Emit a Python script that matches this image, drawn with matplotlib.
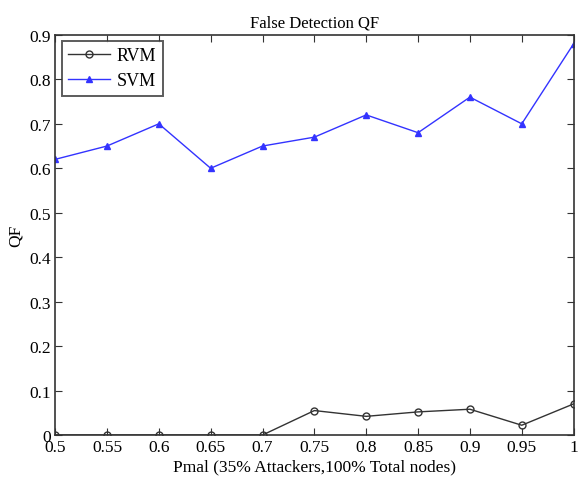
import matplotlib
matplotlib.use("Agg")
import matplotlib.pyplot as plt

x = [0.5, 0.55, 0.6, 0.65, 0.7, 0.75, 0.8, 0.85, 0.9, 0.95, 1.0]
rvm = [0, 0, 0, 0, 0, 0.055, 0.042, 0.052, 0.058, 0.022, 0.07]
svm = [0.62, 0.65, 0.70, 0.60, 0.65, 0.67, 0.72, 0.68, 0.76, 0.70, 0.88]
xticks = [0.5, 0.55, 0.6, 0.65, 0.7, 0.75, 0.8, 0.85, 0.9, 0.95, 1.0]
xticklabels = ["0.5", "0.55", "0.6", "0.65", "0.7", "0.75", "0.8", "0.85", "0.9", "0.95", "1"]
yticks = [0, 0.1, 0.2, 0.3, 0.4, 0.5, 0.6, 0.7, 0.8, 0.9]
yticklabels = ["0", "0.1", "0.2", "0.3", "0.4", "0.5", "0.6", "0.7", "0.8", "0.9"]

plt.rcParams['font.family'] = ['Liberation Serif', 'DejaVu Serif']
fig = plt.figure(figsize=(5.8, 4.85), dpi=100)
ax = fig.add_axes([0.095, 0.101, 0.894, 0.825])
ax.plot(x, rvm, color='#333333', lw=1, marker='o', ms=5, mfc='none', mec='#333333', label='RVM')
ax.plot(x, svm, color='#3333ff', lw=1, marker='^', ms=5, mfc='#3333ff', mec='#3333ff', label='SVM')
ax.set_xlim(0.5, 1.0)
ax.set_ylim(0, 0.9)
ax.set_xticks(xticks)
ax.set_xticklabels(xticklabels)
ax.set_yticks(yticks)
ax.set_yticklabels(yticklabels)
for s in ax.spines.values():
    s.set_color('#333333')
    s.set_linewidth(1.2)
ax.tick_params(direction='in', top=True, right=True, labelsize=12.5, length=5, pad=3, color='#333333')
ax.set_title('False Detection QF', fontsize=12, pad=6)
ax.set_xlabel('Pmal (35% Attackers,100% Total nodes)', fontsize=12.5, labelpad=2)
ax.set_ylabel('QF', fontsize=12.5, labelpad=4)
leg = ax.legend(loc='upper left', fontsize=13, fancybox=False, edgecolor='#333333',
                borderpad=0.35, handlelength=2.3, handletextpad=0.4, labelspacing=0.45,
                borderaxespad=0.0, bbox_to_anchor=(0.013, 0.985))
leg.get_frame().set_linewidth(1.4)
fig.savefig('out.png', dpi=100)
